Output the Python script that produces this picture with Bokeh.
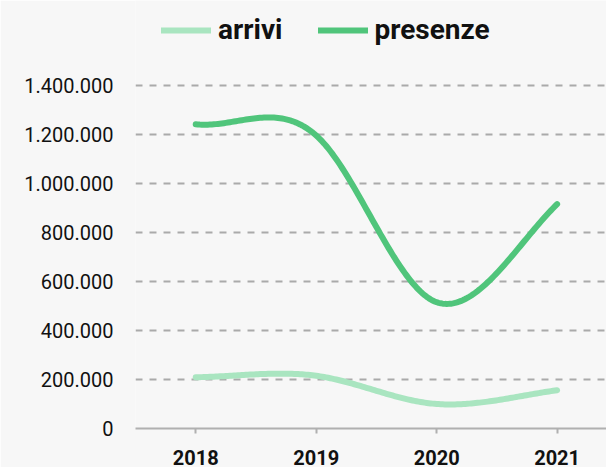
import numpy as np
from bokeh.plotting import figure
from bokeh.models import FixedTicker, Legend, LegendItem, Range1d, CustomLabelingPolicy
from bokeh.core.properties import value
from bokeh.embed import file_html
from bokeh.resources import INLINE

# ---- data ----
years = [2018, 2019, 2020, 2021]
arrivi = [209000, 215000, 100000, 156000]
presenze = [1241000, 1195000, 515000, 915000]
series_names = ["arrivi", "presenze"]
series_colors = ["#a9e5c0", "#50c57b"]

y_ticks = [0, 200000, 400000, 600000, 800000, 1000000, 1200000, 1400000]
y_tick_labels = ["0", "200.000", "400.000", "600.000", "800.000",
                 "1.000.000", "1.200.000", "1.400.000"]
x_tick_labels = ["2018", "2019", "2020", "2021"]


def smooth(xs, ys, n=60):
    """Cubic Hermite (cardinal-style) rendering of the line through the data."""
    m = len(ys)
    tang = []
    for i in range(m):
        if i == 0:
            tang.append(1.2 * (ys[1] - ys[0]))
        elif i == m - 1:
            tang.append(1.2 * (ys[-1] - ys[-2]))
        else:
            tang.append(0.6 * (ys[i + 1] - ys[i - 1]))
    ox, oy = [], []
    for i in range(m - 1):
        s = np.linspace(0, 1, n, endpoint=(i == m - 2))
        h00 = 2 * s**3 - 3 * s**2 + 1
        h10 = s**3 - 2 * s**2 + s
        h01 = -2 * s**3 + 3 * s**2
        h11 = s**3 - s**2
        ox.extend(xs[i] + s * (xs[i + 1] - xs[i]))
        oy.extend(h00 * ys[i] + h10 * tang[i] + h01 * ys[i + 1] + h11 * tang[i + 1])
    return ox, oy


BG = "#f7f7f7"
GRID = "#aaaaaa"
AXIS = "#b0b0b0"
TEXT = "#111111"

p = figure(width=606, height=467, output_backend="svg", toolbar_location=None,
           x_range=Range1d(2017.5, 2021.41), y_range=Range1d(0, 1745500),
           min_border_left=135, min_border_right=0, min_border_top=0,
           min_border_bottom=39)
p.background_fill_color = BG
p.border_fill_color = BG
p.outline_line_color = None

renderers = []
for name, vals, col in zip(series_names, [arrivi, presenze], series_colors):
    sx, sy = smooth(years, vals)
    r = p.line(sx, sy, line_color=col, line_width=6, line_cap="round", line_join="round")
    renderers.append(r)

# x axis (line + ticks; labels drawn below as overlay text so they may run off the page)
p.xaxis.ticker = FixedTicker(ticks=years)
p.xaxis.axis_line_color = AXIS
p.xaxis.axis_line_width = 2
p.xaxis.major_tick_line_color = AXIS
p.xaxis.major_tick_line_width = 2
p.xaxis.major_tick_out = 5
p.xaxis.major_tick_in = 0
p.xaxis.minor_tick_line_color = None
p.xaxis.major_label_policy = CustomLabelingPolicy(code="""
    for (const i of indices)
        indices.unset(i)
""")
p.xaxis.major_label_standoff = 0

p.text(x=years, y=[0] * len(years), text=x_tick_labels, y_offset=21,
       text_align="center", text_baseline="top",
       text_font=value("Roboto"), text_font_style="bold", text_font_size="20px",
       text_color=TEXT, level="overlay")

p.yaxis.ticker = FixedTicker(ticks=y_ticks)
p.yaxis.major_label_overrides = {t: l for t, l in zip(y_ticks, y_tick_labels)}
p.yaxis.axis_line_color = None
p.yaxis.major_tick_line_color = None
p.yaxis.minor_tick_line_color = None
p.yaxis.major_tick_out = 0
p.yaxis.major_label_standoff = 22
p.yaxis.major_label_text_font = "Roboto"
p.yaxis.major_label_text_font_size = "20px"
p.yaxis.major_label_text_color = TEXT

p.xgrid.grid_line_color = None
p.ygrid.ticker = FixedTicker(ticks=y_ticks[1:])
p.ygrid.grid_line_color = GRID
p.ygrid.grid_line_width = 2
p.ygrid.grid_line_dash = "7 7"

legend = Legend(items=[LegendItem(label=n, renderers=[r]) for n, r in zip(series_names, renderers)],
                orientation="horizontal", location=(26, 382),
                glyph_width=50, glyph_height=20, label_standoff=7, spacing=35,
                padding=0, margin=0, background_fill_alpha=0, border_line_color=None,
                label_text_font="Roboto", label_text_font_style="bold",
                label_text_font_size="28px", label_text_color=TEXT)
p.add_layout(legend)

open("out.html", "w").write(file_html(p, INLINE))
